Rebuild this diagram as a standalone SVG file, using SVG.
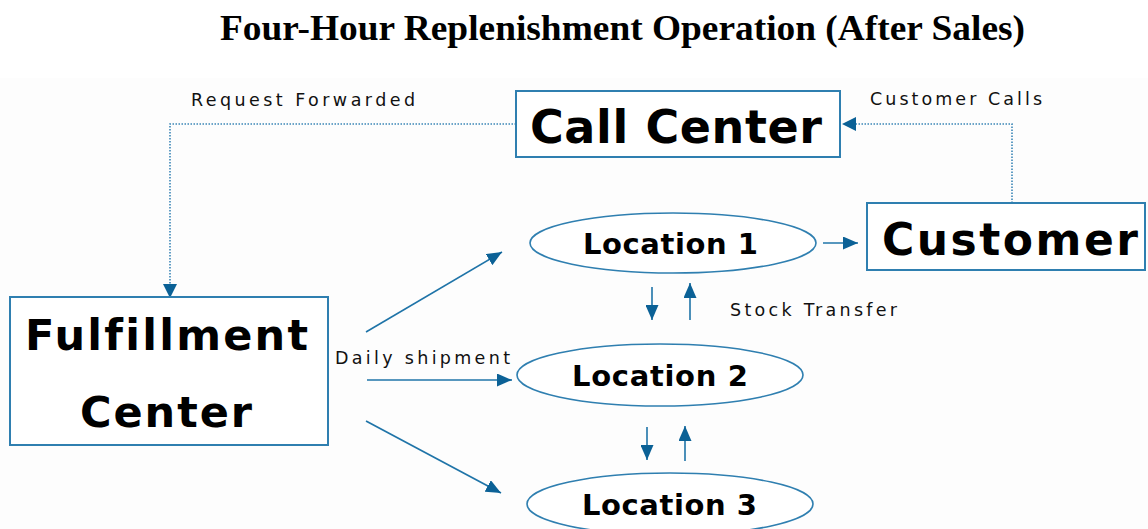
<svg xmlns="http://www.w3.org/2000/svg" width="1148" height="529" viewBox="0 0 1148 529">
<defs>
<marker id="ahl" viewBox="0 0 15 13" refX="15" refY="6.5" markerWidth="15" markerHeight="13" markerUnits="userSpaceOnUse" orient="auto">
<path d="M0,0 L15,6.5 L0,13 Z" fill="#0b6196"/>
</marker>
</defs>
<style>
.box{fill:#ffffff;stroke:#2f7fb0;stroke-width:2}
.ell{fill:#ffffff;stroke:#2f7fb0;stroke-width:1.6}
.big{font-family:"DejaVu Sans",Verdana,sans-serif;font-weight:bold;fill:#000;font-variant-ligatures:none}
.lab{font-family:"DejaVu Sans",Verdana,sans-serif;fill:#111;font-size:17.5px}
.con{stroke:#1f74a8;stroke-width:1.6;fill:none}
.dot{stroke:#3b86b6;stroke-width:1.6;stroke-dasharray:1.5 1.5;fill:none}
.title{font-family:"Liberation Serif","Times New Roman",serif;font-weight:bold;font-size:36px;fill:#000}
</style>
<rect x="0" y="0" width="1148" height="529" fill="#ffffff"/>
<rect x="0" y="78" width="1148" height="451" fill="#fdfdfd"/>
<text class="title" x="220" y="40" textLength="805" lengthAdjust="spacingAndGlyphs">Four-Hour Replenishment Operation (After Sales)</text>

<g id="connectors">
<polyline class="dot" points="516,124 170,124 170,290" />
<path d="M163,284 L177,284 L170,298 Z" fill="#0b6196"/>
<polyline class="dot" points="1012,203 1012,124 852,124" />
<path d="M856,117 L856,131 L842,124 Z" fill="#0b6196"/>
<line class="con" x1="366" y1="332" x2="502" y2="252" marker-end="url(#ahl)"/>
<line class="con" x1="367" y1="380" x2="512" y2="380" marker-end="url(#ahl)"/>
<line class="con" x1="366" y1="421" x2="501" y2="493" marker-end="url(#ahl)"/>
<line class="con" x1="823" y1="243" x2="858" y2="243" marker-end="url(#ahl)"/>
<line class="con" x1="652" y1="287" x2="652" y2="320" marker-end="url(#ahl)"/>
<line class="con" x1="690" y1="320" x2="690" y2="283" marker-end="url(#ahl)"/>
<line class="con" x1="647" y1="427" x2="647" y2="460" marker-end="url(#ahl)"/>
<line class="con" x1="685" y1="461" x2="685" y2="426" marker-end="url(#ahl)"/>
<text class="lab" x="191" y="106" textLength="224" lengthAdjust="spacing">Request Forwarded</text>
<text class="lab" x="870" y="105" textLength="172" lengthAdjust="spacing">Customer Calls</text>
<text class="lab" x="335" y="364" textLength="175" lengthAdjust="spacing">Daily shipment</text>
<text class="lab" x="730" y="316" textLength="167" lengthAdjust="spacing">Stock Transfer</text>
</g>

<g id="call-center">
<rect class="box" x="516" y="91" width="324" height="66"/>
<text class="big" x="530" y="143" font-size="46" textLength="292" lengthAdjust="spacing">Call Center</text>
</g>

<g id="customer">
<rect class="box" x="867" y="203" width="278" height="67"/>
<text class="big" x="882" y="255" font-size="44" textLength="256" lengthAdjust="spacing">Customer</text>
</g>

<g id="fulfillment-center">
<rect class="box" x="10" y="297" width="318" height="148"/>
<text class="big" x="25" y="350" font-size="43" textLength="283" lengthAdjust="spacing">Fulfillment</text>
<text class="big" x="80" y="427" font-size="43" textLength="172" lengthAdjust="spacing">Center</text>
</g>

<g id="location-1">
<ellipse class="ell" cx="673" cy="243" rx="143" ry="30"/>
<text class="big" x="583" y="254" font-size="29" textLength="175" lengthAdjust="spacing">Location 1</text>
</g>

<g id="location-2">
<ellipse class="ell" cx="660" cy="375" rx="143" ry="31"/>
<text class="big" x="572" y="386" font-size="29" textLength="176" lengthAdjust="spacing">Location 2</text>
</g>

<g id="location-3">
<ellipse class="ell" cx="670" cy="504" rx="143" ry="31"/>
<text class="big" x="582" y="515" font-size="29" textLength="175" lengthAdjust="spacing">Location 3</text>
</g>
</svg>
